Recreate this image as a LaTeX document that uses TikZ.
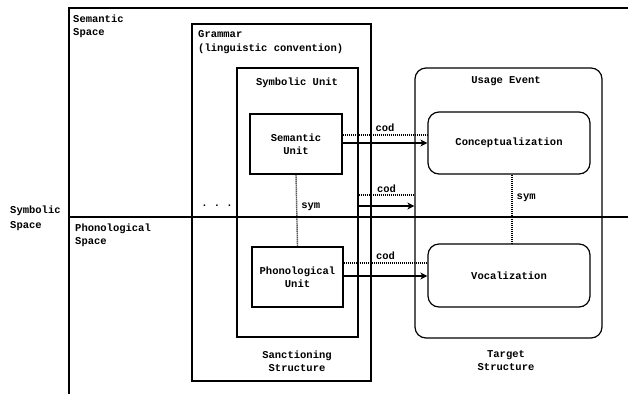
\documentclass[tikz,border=0pt]{standalone}
\usepackage{fontspec}
\setmainfont{Liberation Mono}
\usetikzlibrary{arrows.meta}
\begin{document}
\begin{tikzpicture}[x=1pt,y=-1pt,
  txt/.style={font=\fontsize{10.5}{13}\selectfont\bfseries, inner sep=0pt, align=center},
  box/.style={draw, line width=1.2pt, inner sep=0pt},
  rbox/.style={draw, line width=1.2pt, inner sep=0pt, rounded corners=11pt},
  frame/.style={line width=1.2pt},
  symline/.style={line width=1.4pt, dash pattern=on 1pt off 1pt},
  codline/.style={line width=1.4pt, dash pattern=on 1pt off 1pt},
  arr/.style={line width=1.3pt, -{Stealth[length=7pt,width=7pt,inset=2pt]}}]
\useasboundingbox (0,0) rectangle (628,394);
% outer frame
\coordinate (tl) at (69,8);
\coordinate (tr) at (628,8);
\coordinate (bl) at (69,394);
\coordinate (ml) at (69,217);
\coordinate (mr) at (628,217);
\draw[frame] (tr) -- (tl) -- (bl);
\draw[frame] (ml) -- (mr);
% boxes
\node[box, minimum width=179pt, minimum height=357pt] (gram) at (281.5,202.5) {};
\node[box, minimum width=121pt, minimum height=269pt] (symu) at (297.5,202.5) {};
\node[box, minimum width=92pt, minimum height=60pt, txt] (semu) at (296,144) {Semantic\\Unit};
\node[box, minimum width=91pt, minimum height=60pt, txt] (phonu) at (297.5,277) {Phonological\\Unit};
\node[rbox, minimum width=187pt, minimum height=270pt] (ue) at (508.5,203) {};
\node[rbox, minimum width=162pt, minimum height=62pt, txt] (conc) at (509,143) {Conceptualization};
\node[rbox, minimum width=162pt, minimum height=63pt, txt] (voc) at (509,275.5) {Vocalization};
% texts
\node[txt, anchor=north west, align=left] (semsp) at (73,15) {Semantic\\Space};
\node[txt, anchor=north west, align=left] (phonsp) at (75,224) {Phonological\\Space};
\node[txt, anchor=north west, align=left, font=\fontsize{10.5}{15}\selectfont\bfseries] (symsp) at (10,206) {Symbolic\\Space};
\node[txt, anchor=north west, align=left, font=\fontsize{10.5}{14}\selectfont\bfseries] (gramt) at (198,30) {Grammar\\(linguistic convention)};
\node[txt] (symut) at (297,83) {Symbolic Unit};
\node[txt] (uet) at (506,81) {Usage Event};
\node[txt] (sanct) at (297,361.5) {Sanctioning\\Structure};
\node[txt] (targ) at (506,360.5) {Target\\Structure};
\node[txt] (dots) at (217,206) {.\ .\ .};
% sym connectors
\draw[symline] (semu.south) -- (phonu.north) node[txt, pos=0.45, right=4pt] (sym1) {sym};
\draw[symline] ([xshift=3pt]conc.south) -- ([xshift=3pt]voc.north) node[txt, pos=0.33, right=4pt] (sym2) {sym};
% cod connectors
\draw[codline] (semu.east |- 0,135) -- (conc.west |- 0,135) node[txt, midway, above=3pt] (cod1) {cod};
\draw[arr] (semu.east |- 0,143) -- (conc.west |- 0,143);
\draw[codline] (symu.east |- 0,195) -- (ue.west |- 0,195) node[txt, midway, above=2pt] (cod2) {cod};
\draw[arr] (symu.east |- 0,206) -- (ue.west |- 0,206);
\draw[codline] (phonu.east |- 0,263) -- (voc.west |- 0,263) node[txt, midway, above=3pt] (cod3) {cod};
\draw[arr] (phonu.east |- 0,276) -- (voc.west |- 0,276);
\end{tikzpicture}
\end{document}
